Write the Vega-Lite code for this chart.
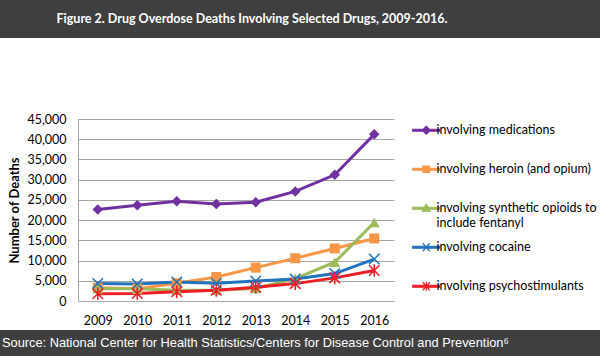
{
  "$schema": "https://vega.github.io/schema/vega-lite/v6.json",
  "padding": 0,
  "background": "white",
  "columns": 1,
  "spacing": 3,
  "config": {"view": {"stroke": null}},
  "resolve": {"scale": {"color": "independent", "x": "independent", "y": "independent"}, "legend": {"color": "independent"}},
  "concat": [
    {
      "width": 600,
      "height": 38,
      "view": {"fill": "#3f3f3f", "stroke": null},
      "data": {"values": [{"title": "Figure 2. Drug Overdose Deaths Involving Selected Drugs, 2009-2016."}]},
      "mark": {"type": "text", "color": "white", "font": "Lato", "fontWeight": "bold", "fontSize": 12.5, "align": "center", "baseline": "middle"},
      "encoding": {
        "text": {"field": "title"},
        "x": {"datum": 0.42, "type": "quantitative", "scale": {"domain": [0, 1]}, "axis": null}
      }
    },
    {
      "spacing": 0,
      "resolve": {"scale": {"color": "independent"}, "legend": {"color": "independent"}},
      "hconcat": [
        {
          "width": 8,
          "height": 1,
          "data": {"values": []},
          "mark": "rule",
          "encoding": {}
        },
        {
          "width": 316,
          "height": 182,
          "title": {"text": " ", "fontSize": 10, "offset": 62},
          "data": {"values": [
            {"year": "2009", "drug": "involving medications", "deaths": 22600},
            {"year": "2010", "drug": "involving medications", "deaths": 23650},
            {"year": "2011", "drug": "involving medications", "deaths": 24650},
            {"year": "2012", "drug": "involving medications", "deaths": 24000},
            {"year": "2013", "drug": "involving medications", "deaths": 24400},
            {"year": "2014", "drug": "involving medications", "deaths": 27100},
            {"year": "2015", "drug": "involving medications", "deaths": 31200},
            {"year": "2016", "drug": "involving medications", "deaths": 41200},
            {"year": "2009", "drug": "involving heroin (and opium)", "deaths": 3278},
            {"year": "2010", "drug": "involving heroin (and opium)", "deaths": 3036},
            {"year": "2011", "drug": "involving heroin (and opium)", "deaths": 4397},
            {"year": "2012", "drug": "involving heroin (and opium)", "deaths": 5925},
            {"year": "2013", "drug": "involving heroin (and opium)", "deaths": 8257},
            {"year": "2014", "drug": "involving heroin (and opium)", "deaths": 10574},
            {"year": "2015", "drug": "involving heroin (and opium)", "deaths": 12989},
            {"year": "2016", "drug": "involving heroin (and opium)", "deaths": 15469},
            {"year": "2009", "drug": "involving synthetic opioids to include fentanyl", "deaths": 3007},
            {"year": "2010", "drug": "involving synthetic opioids to include fentanyl", "deaths": 3007},
            {"year": "2011", "drug": "involving synthetic opioids to include fentanyl", "deaths": 2666},
            {"year": "2012", "drug": "involving synthetic opioids to include fentanyl", "deaths": 2628},
            {"year": "2013", "drug": "involving synthetic opioids to include fentanyl", "deaths": 3105},
            {"year": "2014", "drug": "involving synthetic opioids to include fentanyl", "deaths": 5544},
            {"year": "2015", "drug": "involving synthetic opioids to include fentanyl", "deaths": 9580},
            {"year": "2016", "drug": "involving synthetic opioids to include fentanyl", "deaths": 19413},
            {"year": "2009", "drug": "involving cocaine", "deaths": 4350},
            {"year": "2010", "drug": "involving cocaine", "deaths": 4183},
            {"year": "2011", "drug": "involving cocaine", "deaths": 4681},
            {"year": "2012", "drug": "involving cocaine", "deaths": 4404},
            {"year": "2013", "drug": "involving cocaine", "deaths": 4944},
            {"year": "2014", "drug": "involving cocaine", "deaths": 5415},
            {"year": "2015", "drug": "involving cocaine", "deaths": 6784},
            {"year": "2016", "drug": "involving cocaine", "deaths": 10375},
            {"year": "2009", "drug": "involving psychostimulants", "deaths": 1802},
            {"year": "2010", "drug": "involving psychostimulants", "deaths": 1854},
            {"year": "2011", "drug": "involving psychostimulants", "deaths": 2266},
            {"year": "2012", "drug": "involving psychostimulants", "deaths": 2635},
            {"year": "2013", "drug": "involving psychostimulants", "deaths": 3400},
            {"year": "2014", "drug": "involving psychostimulants", "deaths": 4298},
            {"year": "2015", "drug": "involving psychostimulants", "deaths": 5716},
            {"year": "2016", "drug": "involving psychostimulants", "deaths": 7542}
          ]},
          "encoding": {
            "x": {"field": "year", "type": "ordinal", "scale": {"type": "point", "padding": 0.5},
              "axis": {"title": null, "labelAngle": 0, "ticks": false, "domainColor": "#a6a6a6", "labelPadding": 13, "labelFont": "Lato", "labelFontSize": 12.5, "labelColor": "#000"}},
            "y": {"field": "deaths", "type": "quantitative", "scale": {"domain": [0, 45000]},
              "axis": {"title": "Number of Deaths", "values": [0, 5000, 10000, 15000, 20000, 25000, 30000, 35000, 40000, 45000], "format": ",d", "ticks": false, "gridColor": "#a6a6a6", "domainColor": "#a6a6a6", "labelPadding": 12, "labelFont": "Lato", "labelFontSize": 12.5, "labelColor": "#000", "titleFont": "Lato", "titleFontSize": 13, "titleFontWeight": "bold", "titleColor": "#000", "titlePadding": 5}},
            "color": {"field": "drug", "type": "nominal",
              "scale": {"domain": ["involving medications", "involving heroin (and opium)", "involving synthetic opioids to include fentanyl", "involving cocaine", "involving psychostimulants"], "range": ["#7030a0", "#f79646", "#9bbb59", "#2173bd", "#ee1c25"]},
              "legend": {"title": null, "orient": "right", "offset": 21, "padding": 5, "gridAlign": "all", "rowPadding": 10, "symbolSize": 100, "symbolStrokeWidth": 1.2, "labelFont": "Lato", "labelFontSize": 12.5, "labelColor": "#000", "labelLimit": 0, "labelOffset": 4,
                "labelExpr": "datum.value == 'involving synthetic opioids to include fentanyl' ? ['involving synthetic opioids to', 'include fentanyl'] : datum.label",
                "encode": {"symbols": {"update": {
                  "shape": {"signal": "datum.value == 'involving medications' ? 'M-2.7,-0.2H2.7V0.2H-2.7ZM0,-0.8L0.8,0L0,0.8L-0.8,0Z' : datum.value == 'involving heroin (and opium)' ? 'M-2.7,-0.2H2.7V0.2H-2.7ZM-0.65,-0.65H0.65V0.65H-0.65Z' : datum.value == 'involving cocaine' ? 'M-2.7,-0.2H2.7V0.2H-2.7ZM-0.7,-0.8L0.7,0.8M-0.7,0.8L0.7,-0.8' : datum.value == 'involving psychostimulants' ? 'M-2.7,-0.2H2.7V0.2H-2.7ZM-0.7,-0.8L0.7,0.8M-0.7,0.8L0.7,-0.8M0,-0.9V0.9' : 'M-2.7,-0.2H2.7V0.2H-2.7ZM0,-0.8L0.8,0.6H-0.8Z'"},
                  "fill": {"scale": "color", "field": "value"},
                  "stroke": {"scale": "color", "field": "value"},
                  "strokeWidth": {"value": 1.2},
                  "opacity": {"value": 1}
                }}}
              }}
          },
          "layer": [
            {"mark": {"type": "line", "strokeWidth": 3}},
            {"transform": [{"filter": "datum.drug == 'involving medications'"}],
              "mark": {"type": "point", "shape": "diamond", "filled": true, "size": 110, "opacity": 1}},
            {"transform": [{"filter": "datum.drug == 'involving heroin (and opium)'"}],
              "mark": {"type": "point", "shape": "square", "filled": true, "size": 100, "opacity": 1}},
            {"transform": [{"filter": "datum.drug == 'involving synthetic opioids to include fentanyl'"}],
              "mark": {"type": "point", "shape": "triangle-up", "filled": true, "size": 120, "opacity": 1}},
            {"transform": [{"filter": "datum.drug == 'involving cocaine'"}],
              "mark": {"type": "point", "shape": "M-1,-1L1,1M-1,1L1,-1", "filled": false, "size": 110, "strokeWidth": 1.5, "opacity": 1}},
            {"transform": [{"filter": "datum.drug == 'involving psychostimulants'"}],
              "mark": {"type": "point", "shape": "M-1,-1L1,1M-1,1L1,-1M0,-1.2V1.2", "filled": false, "size": 110, "strokeWidth": 1.5, "opacity": 1}}
          ]
        }
      ]
    },
    {
      "width": 600,
      "height": 26,
      "view": {"fill": "#3f3f3f", "stroke": null},
      "data": {"values": [{"source": "Source:  National Center for Health Statistics/Centers for Disease Control and Prevention⁶"}]},
      "mark": {"type": "text", "color": "white", "font": "Liberation Sans", "fontSize": 12.8, "align": "left", "baseline": "middle", "dx": 2},
      "encoding": {
        "text": {"field": "source"},
        "x": {"datum": 0, "type": "quantitative", "scale": {"domain": [0, 1]}, "axis": null}
      }
    }
  ]
}
